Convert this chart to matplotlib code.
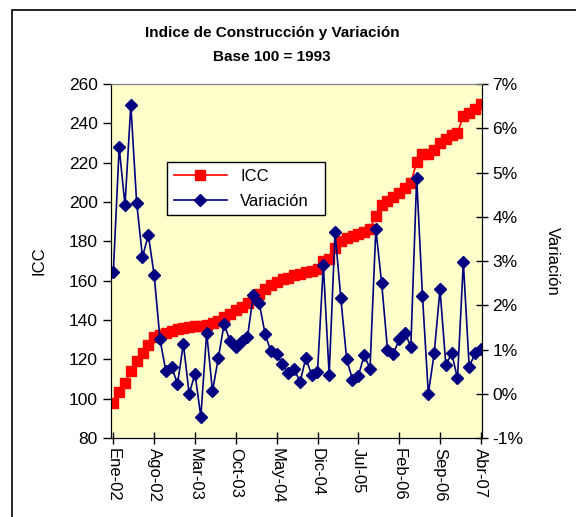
import numpy as np
import matplotlib
matplotlib.use("Agg")
import matplotlib.pyplot as plt
from matplotlib.patches import Rectangle
from matplotlib.ticker import FuncFormatter

plt.rcParams['font.family'] = ['Liberation Sans', 'DejaVu Sans']

# ICC monthly, Ene-02 .. Abr-07
icc = [97.8, 103.4, 108.0, 114.3, 119.4, 123.3, 127.5, 131.3, 132.5, 133.5,
       134.3, 135.2, 136.0, 136.5, 136.9, 137.2, 137.7, 138.6, 139.4, 141.5,
       143.2, 144.9, 146.6, 148.4, 150.8, 153.3, 155.9, 157.6, 159.3, 160.6,
       161.5, 162.7, 163.3, 164.4, 164.9, 165.7, 170.0, 170.8, 176.8, 180.2,
       181.9, 182.7, 183.6, 184.8, 186.5, 192.9, 198.3, 200.5, 202.6, 204.8,
       207.3, 209.9, 220.1, 224.3, 224.3, 226.5, 229.9, 232.0, 234.0, 235.3,
       243.8, 245.5, 247.2, 249.8]

# Variacion (%)
variacion = [2.75, 5.57, 4.26, 6.53, 4.31, 3.09, 3.59, 2.68, 1.23, 0.51,
             0.61, 0.22, 1.13, 0.00, 0.45, -0.52, 1.38, 0.06, 0.81, 1.58,
             1.19, 1.05, 1.19, 1.29, 2.23, 2.06, 1.36, 0.96, 0.89, 0.68,
             0.46, 0.57, 0.26, 0.81, 0.42, 0.49, 2.91, 0.42, 3.65, 2.16,
             0.78, 0.32, 0.40, 0.87, 0.57, 3.72, 2.50, 1.00, 0.89, 1.23,
             1.38, 1.06, 4.88, 2.20, 0.00, 0.91, 2.36, 0.65, 0.91, 0.35,
             2.97, 0.61, 0.91, 1.01]

tick_labels = ["Ene-02", "Ago-02", "Mar-03", "Oct-03", "May-04",
               "Dic-04", "Jul-05", "Feb-06", "Sep-06", "Abr-07"]

W, H = 576, 517
fig = plt.figure(figsize=(W / 100, H / 100), dpi=100)

# outer chart frame
fig.patches.append(Rectangle((12 / W, -0.1), 1.2, 1 - 10 / H + 0.1,
                             transform=fig.transFigure, fill=False,
                             edgecolor='black', lw=1.2))

ax = fig.add_axes([111 / W, 1 - 438 / H, (482 - 111) / W, (438 - 84) / H])
ax.set_facecolor('#FFFFCC')
x = np.arange(len(icc))

l1, = ax.plot(x, icc, color='#FF0000', marker='s', ms=6.5, lw=1.2,
              mec='#FF0000', label='ICC')
ax.set_ylim(80, 260)
ax.set_yticks(np.arange(80, 261, 20))
ax.set_xlim(-0.4, 63.2)
ax.set_xticks(np.arange(0, 64, 7))
ax.set_xticklabels(tick_labels, rotation=-90, fontsize=12)
ax.tick_params(axis='y', labelsize=12.5, direction='out', length=6, width=1)
ax.tick_params(axis='x', direction='inout', length=8, width=1, pad=3)
ax.set_ylabel('ICC', fontsize=12, labelpad=16)

ax2 = ax.twinx()
l2, = ax2.plot(x, variacion, color='#000080', marker='D', ms=6, lw=1.2,
               mec='#000080', label='Variación')
ax2.set_ylim(-1, 7)
ax2.set_yticks(np.arange(-1, 8, 1))
ax2.yaxis.set_major_formatter(FuncFormatter(lambda v, p: '%d%%' % v))
ax2.tick_params(axis='y', labelsize=12.5, direction='inout', length=8, width=1)
ax2.set_ylabel('Variación', fontsize=12, rotation=-90, labelpad=26)

for a in (ax, ax2):
    for s in ('left', 'right', 'bottom'):
        a.spines[s].set_color('black')
    a.spines['top'].set_color('#808080')

leg = ax.legend(handles=[l1, l2], loc='upper left',
                bbox_to_anchor=(167 / W, 1 - 218 / H, (325 - 167) / W, (218 - 162) / H),
                bbox_transform=fig.transFigure, mode='expand',
                fontsize=12, frameon=True, fancybox=False, framealpha=1,
                edgecolor='black', borderaxespad=0, handlelength=3.2,
                labelspacing=0.6)
leg.get_frame().set_linewidth(1)

fig.text(272 / W, 1 - 33 / H, 'Indice de Construcción y Variación',
         ha='center', va='center', fontsize=11, fontweight='bold')
fig.text(272 / W, 1 - 57 / H, 'Base 100 = 1993',
         ha='center', va='center', fontsize=11, fontweight='bold')

fig.savefig('out.png', dpi=100)
